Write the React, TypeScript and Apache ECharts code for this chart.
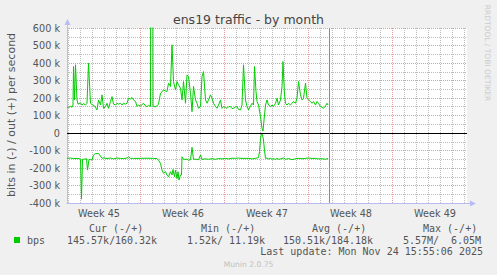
import React, { useEffect, useRef } from 'react';
import * as echarts from 'echarts';

// time in hours from the left edge of the plot (2 h per pixel, 800 h visible)
const outHours = [
  0, 3, 7, 10, 12, 13, 15, 17, 20, 22,
  27, 30, 33, 37, 40, 43, 47, 50, 55, 60,
  63, 67, 70, 73, 77, 80, 83, 87, 90, 93,
  97, 100, 103, 107, 110, 113, 117, 120, 123, 127,
  130, 133, 137, 140, 143, 147, 150, 153, 157, 160,
  163, 167, 170, 172, 177, 180, 183, 187, 190, 193,
  197, 200, 203, 207, 210, 213, 217, 220, 223, 227,
  230, 233, 237, 240, 243, 247, 250, 253, 257, 260,
  263, 267, 270, 273, 277, 280, 283, 287, 290, 293,
  297, 300, 303, 307, 310, 313, 317, 320, 323, 327,
  330, 333, 337, 340, 343, 347, 350, 353, 357, 360,
  363, 370, 373, 375, 378, 380, 383, 387, 390, 392,
  394, 397, 400, 403, 407, 410, 413, 417, 420, 423,
  427, 430, 432, 435, 437, 440, 443, 447, 450, 453,
  457, 460, 463, 467, 470, 473, 477, 480, 483, 487,
  490, 493, 497, 500, 503, 507, 510, 513, 517, 520,
  522,
];
// out (+), kbit/s
const outKbps = [
  149, 145, 152, 147, 160, 380, 189, 390, 189, 165,
  172, 160, 168, 160, 170, 399, 170, 163, 155, 132,
  189, 160, 218, 141, 150, 170, 141, 180, 208, 165,
  160, 170, 165, 170, 160, 170, 165, 170, 199, 195,
  203, 189, 180, 151, 160, 155, 162, 170, 155, 151,
  158, 152, 6050, 151, 150, 155, 165, 227, 235, 246,
  240, 237, 285, 266, 504, 294, 246, 294, 275, 256,
  189, 294, 170, 332, 322, 227, 122, 266, 189, 170,
  141, 151, 322, 351, 189, 170, 189, 218, 199, 170,
  151, 141, 160, 189, 141, 151, 145, 141, 150, 151,
  140, 141, 148, 151, 135, 132, 160, 390, 189, 151,
  132, 170, 160, 380, 237, 180, 160, 93, 27, 11,
  74, 160, 189, 160, 151, 160, 151, 170, 199, 160,
  189, 265, 408, 218, 170, 160, 170, 160, 170, 180,
  170, 199, 294, 218, 189, 199, 285, 199, 189, 180,
  170, 180, 160, 180, 170, 151, 147, 141, 155, 170,
  160,
];

const inHours = [
  0, 7, 13, 20, 25, 27, 29, 31, 33, 37,
  39, 41, 44, 47, 50, 53, 57, 60, 63, 67,
  70, 73, 80, 87, 93, 100, 107, 113, 120, 123,
  127, 133, 147, 160, 173, 180, 183, 187, 190, 193,
  197, 200, 203, 207, 210, 212, 215, 217, 220, 222,
  224, 227, 229, 230, 233, 240, 243, 247, 250, 253,
  260, 263, 267, 270, 277, 283, 290, 297, 303, 310,
  317, 323, 330, 337, 343, 350, 363, 370, 377, 380,
  383, 385, 387, 389, 391, 393, 395, 397, 400, 403,
  407, 410, 413, 417, 420, 423, 427, 430, 433, 437,
  443, 450, 457, 463, 470, 477, 483, 490, 497, 503,
  510, 517, 522,
];
// in (-), kbit/s drawn negative
const inKbps = [
  -145, -143, -146, -145, -147, -150, -378, -150, -150, -148,
  -147, -212, -150, -152, -155, -126, -117, -118, -117, -132,
  -145, -142, -146, -143, -148, -143, -145, -146, -143, -136,
  -145, -145, -145, -144, -145, -146, -155, -174, -212, -230,
  -221, -240, -250, -221, -240, -208, -250, -212, -260, -221,
  -269, -240, -240, -136, -150, -150, -155, -153, -82, -150,
  -150, -153, -126, -150, -148, -150, -147, -150, -146, -148,
  -145, -148, -144, -145, -143, -145, -145, -148, -145, -143,
  -140, -107, -31, -2, -11, -40, -100, -145, -143, -148,
  -145, -150, -146, -152, -145, -150, -148, -145, -143, -150,
  -146, -152, -147, -145, -147, -145, -143, -145, -145, -148,
  -147, -150, -146,
];

const nowHour = 525;
const spanHours = 800;
const weekNames = ['Week 45', 'Week 46', 'Week 47', 'Week 48', 'Week 49'];
const weekLabelHours = [64, 232, 400, 568, 736];
const weekStartHours = [147, 315, 483, 651];
const firstDayHour = 3; // first midnight after the left edge

const yTicks = { min: -400, max: 600, step: 100 };

const title = 'ens19 traffic - by month';
const yTitle = 'bits in (-) / out (+) per second';
const seriesName = 'bps';
const legendHeaders = ['Cur (-/+)', 'Min (-/+)', 'Avg (-/+)', 'Max (-/+)'];
const legendInValues = ['145.57k/', '1.52k/', '150.51k/', '5.57M/'];
const legendOutValues = ['160.32k', '11.19k', '184.18k', '6.05M'];
const lastUpdate = 'Last update: Mon Nov 24 15:55:06 2025';
const watermark = 'RRDTOOL / TOBI OETIKER';
const version = 'Munin 2.0.75';

const GREEN = '#00cc00';
const AXIS = '#b8bcf4';
const TEXT = '#555555';
const MGRID = '#e49a9a';
const GRID = '#bcbcbc';
const BACK = '#f0f0f0';
const MONO = '"DejaVu Sans Mono", monospace';
const SANS = '"DejaVu Sans", sans-serif';

const W = 497;
const H = 275;
const G = { left: 67, top: 28, width: 400, height: 175 };

export default function App() {
  const ref = useRef<HTMLDivElement>(null);

  useEffect(() => {
    document.body.style.margin = '0';
    const chart = echarts.init(ref.current!, null, { renderer: 'svg' });

    // minor grid: every midnight (except Mondays) and every odd 50 k
    const dayLines: number[] = [];
    for (let h = firstDayHour; h < spanHours; h += 24) {
      if (!weekStartHours.includes(h)) dayLines.push(h);
    }
    const halfLines: number[] = [];
    for (let v = yTicks.min + yTicks.step / 2; v < yTicks.max; v += yTicks.step) halfLines.push(v);
    const minorGrid = [
      ...dayLines.map((h) => ({ xAxis: h })),
      ...halfLines.map((v) => ({ yAxis: v })),
    ];

    const headerX = [89, 201, 312, 423];
    const inX = [67, 187, 283, 403];
    const outX = [115, 229, 331, 451];
    const bottom = G.top + G.height;
    const right = G.left + G.width;

    const frame = (x: number, y: number, width: number, height: number) => ({
      type: 'rect', z: -10, silent: true, shape: { x, y, width, height }, style: { fill: BACK },
    });

    const graphics: any[] = [
      frame(0, 0, W, G.top),
      frame(0, bottom, W, H - bottom),
      frame(0, G.top, G.left, G.height),
      frame(right, G.top, W - right, G.height),
      {
        type: 'line', silent: true,
        shape: { x1: G.left + 0.5, y1: G.top, x2: G.left + 0.5, y2: G.top - 4 },
        style: { stroke: AXIS, lineWidth: 1 },
      },
      {
        type: 'polygon', silent: true,
        shape: { points: [[G.left + 0.5, G.top - 9], [G.left - 2.5, G.top - 3], [G.left + 3.5, G.top - 3]] },
        style: { fill: AXIS },
      },
      {
        type: 'line', silent: true,
        shape: { x1: right, y1: bottom + 0.5, x2: right + 4, y2: bottom + 0.5 },
        style: { stroke: AXIS, lineWidth: 1 },
      },
      {
        type: 'polygon', silent: true,
        shape: { points: [[right + 9, bottom + 0.5], [right + 3, bottom - 2.5], [right + 3, bottom + 3.5]] },
        style: { fill: AXIS },
      },
      {
        type: 'text', x: 248.5, y: 19.5,
        style: { text: title, fill: '#444', font: `12.5px ${SANS}`, textAlign: 'center', textVerticalAlign: 'middle' },
      },
      {
        type: 'text', x: 11, y: 115, rotation: Math.PI / 2,
        style: { text: yTitle, fill: TEXT, font: `11px ${SANS}`, textAlign: 'center', textVerticalAlign: 'middle' },
      },
      {
        type: 'text', x: 487, y: 53, rotation: -Math.PI / 2,
        style: { text: watermark, fill: '#cccccc', font: `7.5px ${SANS}`, textAlign: 'center', textVerticalAlign: 'middle' },
      },
      {
        type: 'rect', shape: { x: 14, y: 237, width: 6, height: 6 }, style: { fill: GREEN },
      },
      {
        type: 'text', x: 27, y: 240,
        style: { text: seriesName, fill: TEXT, font: `10px ${MONO}`, textAlign: 'left', textVerticalAlign: 'middle' },
      },
      {
        type: 'text', x: 483, y: 251.5,
        style: { text: lastUpdate, fill: TEXT, font: `10px ${MONO}`, textAlign: 'right', textVerticalAlign: 'middle' },
      },
      {
        type: 'text', x: 248.5, y: 264,
        style: { text: version, fill: '#c0c0c0', font: `7.6px ${SANS}`, textAlign: 'center', textVerticalAlign: 'middle' },
      },
    ];
    legendHeaders.forEach((t, i) => {
      graphics.push({
        type: 'text', x: headerX[i], y: 228,
        style: { text: t, fill: TEXT, font: `10px ${MONO}`, textAlign: 'left', textVerticalAlign: 'middle' },
      });
      graphics.push({
        type: 'text', x: inX[i], y: 240,
        style: { text: legendInValues[i], fill: TEXT, font: `10px ${MONO}`, textAlign: 'left', textVerticalAlign: 'middle' },
      });
      graphics.push({
        type: 'text', x: outX[i], y: 240,
        style: { text: legendOutValues[i], fill: TEXT, font: `10px ${MONO}`, textAlign: 'left', textVerticalAlign: 'middle' },
      });
    });

    const option: any = {
      animation: false,
      backgroundColor: '#ffffff',
      textStyle: { fontFamily: SANS },
      grid: {
        ...G,
        show: false, borderWidth: 0,
        containLabel: false, outerBoundsMode: 'none',
      },
      xAxis: [
        {
          type: 'value', min: 0, max: spanHours, position: 'bottom', z: 2,
          axisLine: { show: true, onZero: false, lineStyle: { color: AXIS, width: 1 } },
          axisTick: { show: false },
          axisLabel: {
            show: true, customValues: weekLabelHours, margin: 5,
            color: TEXT, fontSize: 9.7, fontFamily: SANS,
            formatter: (v: number) => {
              const i = weekLabelHours.indexOf(v);
              return i >= 0 ? weekNames[i] : '';
            },
          },
          splitLine: { show: false },
        },
        {
          type: 'value', min: 0, max: spanHours, position: 'top', z: 1,
          axisLine: { show: false, onZero: false },
          axisTick: { show: false, customValues: weekStartHours },
          axisLabel: { show: false },
          splitLine: { show: true, lineStyle: { color: MGRID, width: 1, type: [1, 1] } },
        },
      ],
      yAxis: [
        {
          type: 'value', min: yTicks.min, max: yTicks.max, interval: yTicks.step, position: 'left', z: 2,
          axisLine: { show: true, onZero: false, lineStyle: { color: AXIS, width: 1 } },
          axisTick: { show: false },
          axisLabel: {
            color: TEXT, fontSize: 9.7, fontFamily: SANS, margin: 7,
            formatter: (v: number) => (v === 0 ? '0' : `${v} k`),
          },
          splitLine: { show: false },
        },
        {
          type: 'value', min: yTicks.min, max: yTicks.max, interval: yTicks.step, position: 'right', z: 1,
          axisLine: { show: false, onZero: false },
          axisTick: { show: false },
          axisLabel: { show: false },
          splitLine: { show: true, lineStyle: { color: MGRID, width: 1, type: [1, 1] } },
        },
      ],
      series: [
        {
          // carrier for the minor (grey dotted) grid lines, drawn under the data
          type: 'line', name: 'grid', xAxisIndex: 0, yAxisIndex: 0,
          data: [[0, 0]], symbol: 'none', showSymbol: false,
          lineStyle: { width: 0, opacity: 0 },
          z: 1, silent: true,
          markLine: {
            silent: true, symbol: 'none', label: { show: false }, z: 1,
            lineStyle: { color: GRID, width: 1, type: [1, 1] },
            emphasis: { disabled: true },
            data: minorGrid,
          },
        },
        {
          type: 'line', name: 'in', xAxisIndex: 0, yAxisIndex: 0,
          data: inHours.map((h, i) => [h, inKbps[i]]),
          symbol: 'none', showSymbol: false, clip: true,
          lineStyle: { color: GREEN, width: 1 },
          itemStyle: { color: GREEN },
          z: 3,
        },
        {
          type: 'line', name: 'out', xAxisIndex: 0, yAxisIndex: 0,
          data: outHours.map((h, i) => [h, outKbps[i]]),
          symbol: 'none', showSymbol: false, clip: true,
          lineStyle: { color: GREEN, width: 1 },
          itemStyle: { color: GREEN },
          z: 3,
          markLine: {
            silent: true, symbol: 'none', label: { show: false },
            data: [
              { yAxis: 0, lineStyle: { color: '#000000', width: 1.2, type: 'solid' } },
              { xAxis: nowHour, lineStyle: { color: '#8c8c8c', width: 1, type: 'solid' } },
            ],
          },
        },
      ],
      graphic: graphics,
    };

    chart.setOption(option);
    return () => chart.dispose();
  }, []);

  return <div ref={ref} style={{ width: W, height: H, background: BACK }} />;
}
